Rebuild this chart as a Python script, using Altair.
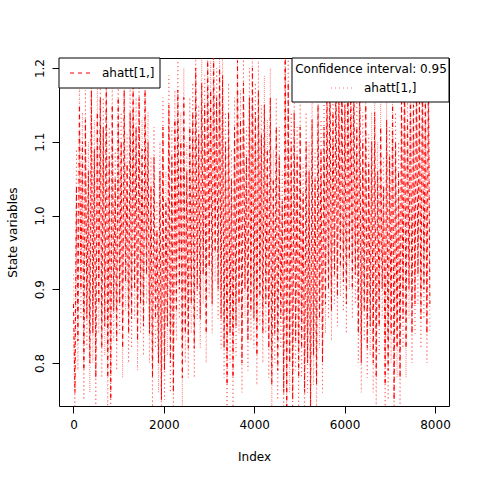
import altair as alt
import pandas as pd

# Index positions (every 33rd observation)
index = list(range(0, 7920, 33))

# Filtered state estimate ahatt[1,]
estimate = [
    0.88, 0.76, 1.04, 0.83, 1.15, 0.90, 1.10, 0.79, 1.13, 0.86,
    1.06, 0.80, 1.17, 0.84, 1.09, 0.78, 1.14, 0.88, 1.16, 0.82,
    1.12, 0.85, 1.18, 0.78, 1.08, 0.75, 1.15, 0.87, 1.05, 0.83,
    1.16, 0.88, 1.10, 0.82, 1.17, 0.91, 1.07, 0.84, 1.14, 0.86,
    1.18, 0.90, 1.12, 0.83, 1.16, 0.88, 1.09, 0.85, 1.17, 0.92,
    1.10, 0.84, 1.04, 0.78, 1.08, 0.86, 0.98, 0.80, 1.06, 0.75,
    1.12, 0.79, 1.02, 0.85, 1.15, 0.80, 1.08, 0.76, 1.13, 0.87,
    1.17, 0.90, 1.10, 0.78, 1.16, 0.84, 1.06, 0.82, 1.12, 0.88,
    1.14, 0.82, 1.20, 0.90, 1.11, 0.86, 1.18, 0.92, 1.15, 0.84,
    1.21, 0.93, 1.17, 0.88, 1.22, 0.95, 1.16, 0.90, 1.20, 0.86,
    1.19, 0.82, 1.10, 0.77, 1.14, 0.84, 1.05, 0.78, 1.12, 0.85,
    1.21, 0.88, 1.13, 0.80, 1.18, 0.90, 1.08, 0.83, 1.16, 0.87,
    1.20, 0.86, 1.14, 0.81, 1.17, 0.89, 1.11, 0.84, 1.15, 0.88,
    1.09, 0.82, 1.16, 0.77, 1.05, 0.84, 1.12, 0.79, 1.08, 0.86,
    1.02, 0.76, 1.24, 0.72, 1.18, 0.80, 1.10, 0.75, 1.14, 0.83,
    1.08, 0.78, 1.12, 0.82, 1.03, 0.76, 1.10, 0.80, 1.06, 0.74,
    1.13, 0.81, 1.05, 0.77, 1.15, 0.86, 1.09, 0.80, 1.12, 0.88,
    1.17, 0.90, 1.20, 0.87, 1.14, 0.92, 1.19, 0.89, 1.16, 0.93,
    1.20, 0.91, 1.15, 0.88, 1.21, 0.94, 1.17, 0.90, 1.19, 0.92,
    1.12, 0.84, 1.18, 0.80, 1.10, 0.87, 1.15, 0.82, 1.07, 0.85,
    1.10, 0.80, 1.14, 0.78, 1.06, 0.85, 1.12, 0.90, 1.04, 0.77,
    1.13, 0.79, 1.08, 0.84, 1.15, 0.75, 1.10, 0.82, 1.06, 0.78,
    1.16, 0.86, 1.20, 0.82, 1.13, 0.90, 1.18, 0.84, 1.15, 0.88,
    1.19, 0.92, 1.16, 0.86, 1.20, 0.90, 1.17, 0.84, 1.19, 0.88,
]

# Upper 95% confidence bound
upper = [
    0.92, 0.80, 1.09, 0.87, 1.18, 0.94, 1.14, 0.83, 1.17, 0.90,
    1.10, 0.84, 1.20, 0.88, 1.13, 0.82, 1.18, 0.92, 1.19, 0.86,
    1.16, 0.89, 1.21, 0.82, 1.12, 0.79, 1.19, 0.91, 1.09, 0.87,
    1.20, 0.92, 1.14, 0.86, 1.21, 0.95, 1.11, 0.88, 1.18, 0.90,
    1.22, 0.94, 1.16, 0.87, 1.20, 0.92, 1.13, 0.89, 1.21, 0.96,
    1.14, 0.88, 1.08, 0.82, 1.12, 0.90, 1.02, 0.84, 1.10, 0.79,
    1.16, 0.83, 1.06, 0.89, 1.19, 0.84, 1.12, 0.80, 1.17, 0.91,
    1.21, 0.94, 1.14, 0.82, 1.20, 0.88, 1.10, 0.86, 1.16, 0.92,
    1.18, 0.86, 1.24, 0.94, 1.15, 0.90, 1.22, 0.96, 1.19, 0.88,
    1.25, 0.97, 1.21, 0.92, 1.26, 0.99, 1.20, 0.94, 1.24, 0.90,
    1.23, 0.86, 1.14, 0.81, 1.18, 0.88, 1.09, 0.82, 1.16, 0.89,
    1.25, 0.92, 1.17, 0.84, 1.22, 0.94, 1.12, 0.87, 1.20, 0.91,
    1.24, 0.90, 1.18, 0.85, 1.21, 0.93, 1.15, 0.88, 1.19, 0.92,
    1.13, 0.86, 1.20, 0.81, 1.09, 0.88, 1.16, 0.83, 1.12, 0.90,
    1.06, 0.80, 1.28, 0.76, 1.22, 0.84, 1.14, 0.79, 1.18, 0.87,
    1.12, 0.82, 1.16, 0.86, 1.07, 0.80, 1.14, 0.84, 1.10, 0.78,
    1.17, 0.85, 1.09, 0.81, 1.19, 0.90, 1.13, 0.84, 1.16, 0.92,
    1.21, 0.94, 1.24, 0.91, 1.18, 0.96, 1.23, 0.93, 1.20, 0.97,
    1.24, 0.95, 1.19, 0.92, 1.25, 0.98, 1.21, 0.94, 1.23, 0.96,
    1.16, 0.88, 1.22, 0.84, 1.14, 0.91, 1.19, 0.86, 1.11, 0.89,
    1.14, 0.84, 1.18, 0.82, 1.10, 0.89, 1.16, 0.94, 1.08, 0.81,
    1.17, 0.83, 1.12, 0.88, 1.19, 0.79, 1.14, 0.86, 1.10, 0.82,
    1.20, 0.90, 1.24, 0.86, 1.17, 0.94, 1.22, 0.88, 1.19, 0.92,
    1.23, 0.96, 1.20, 0.90, 1.24, 0.94, 1.21, 0.88, 1.23, 0.92,
]

# Lower 95% confidence bound
lower = [
    0.84, 0.72, 1.00, 0.79, 1.11, 0.86, 1.06, 0.75, 1.09, 0.82,
    1.02, 0.76, 1.13, 0.80, 1.05, 0.74, 1.10, 0.84, 1.12, 0.78,
    1.08, 0.81, 1.14, 0.74, 1.04, 0.71, 1.11, 0.83, 1.01, 0.79,
    1.12, 0.84, 1.06, 0.78, 1.13, 0.87, 1.03, 0.80, 1.10, 0.82,
    1.14, 0.86, 1.08, 0.79, 1.12, 0.84, 1.05, 0.81, 1.13, 0.88,
    1.06, 0.80, 1.00, 0.74, 1.04, 0.82, 0.94, 0.76, 1.02, 0.71,
    1.08, 0.75, 0.98, 0.81, 1.11, 0.76, 1.04, 0.72, 1.09, 0.83,
    1.13, 0.86, 1.06, 0.74, 1.12, 0.80, 1.02, 0.78, 1.08, 0.84,
    1.10, 0.78, 1.16, 0.86, 1.07, 0.82, 1.14, 0.88, 1.11, 0.80,
    1.17, 0.89, 1.13, 0.84, 1.18, 0.91, 1.12, 0.86, 1.16, 0.82,
    1.15, 0.78, 1.06, 0.73, 1.10, 0.80, 1.01, 0.74, 1.08, 0.81,
    1.17, 0.84, 1.09, 0.76, 1.14, 0.86, 1.04, 0.79, 1.12, 0.83,
    1.16, 0.82, 1.10, 0.77, 1.13, 0.85, 1.07, 0.80, 1.11, 0.84,
    1.05, 0.78, 1.12, 0.73, 1.01, 0.80, 1.08, 0.75, 1.04, 0.82,
    0.98, 0.72, 1.20, 0.68, 1.14, 0.76, 1.06, 0.71, 1.10, 0.79,
    1.04, 0.74, 1.08, 0.78, 0.99, 0.72, 1.06, 0.76, 1.02, 0.70,
    1.09, 0.77, 1.01, 0.73, 1.11, 0.82, 1.05, 0.76, 1.08, 0.84,
    1.13, 0.86, 1.16, 0.83, 1.10, 0.88, 1.15, 0.85, 1.12, 0.89,
    1.16, 0.87, 1.11, 0.84, 1.17, 0.90, 1.13, 0.86, 1.15, 0.88,
    1.08, 0.80, 1.14, 0.76, 1.06, 0.83, 1.11, 0.78, 1.03, 0.81,
    1.06, 0.76, 1.10, 0.74, 1.02, 0.81, 1.08, 0.86, 1.00, 0.73,
    1.09, 0.75, 1.04, 0.80, 1.11, 0.71, 1.06, 0.78, 1.02, 0.74,
    1.12, 0.82, 1.16, 0.78, 1.09, 0.86, 1.14, 0.80, 1.11, 0.84,
    1.15, 0.88, 1.12, 0.82, 1.16, 0.86, 1.13, 0.80, 1.15, 0.84,
]

x_ticks = [0, 2000, 4000, 6000, 8000]
y_ticks = [0.8, 0.9, 1.0, 1.1, 1.2]

FONT = "DejaVu Sans"

df = pd.DataFrame({"Index": index, "est": estimate, "upper": upper, "lower": lower})

xscale = alt.Scale(domain=[-320, 8310], nice=False, zero=False)
yscale = alt.Scale(domain=[0.7417, 1.2136], nice=False, zero=False)

xaxis = alt.Axis(values=x_ticks, title="Index", grid=False, domain=False, format="d",
                 tickSize=7, tickColor="black", labelFont=FONT, labelFontSize=12,
                 labelColor="black", labelPadding=6, titleFont=FONT, titleFontSize=12,
                 titleFontWeight="normal", titleColor="black", titleY=50,
                 titleBaseline="middle", labelFlush=False)
yaxis = alt.Axis(values=y_ticks, title="State variables", grid=False, domain=False,
                 tickSize=7, tickColor="black", labelFont=FONT, labelFontSize=12,
                 labelColor="black", labelAngle=270, labelAlign="center",
                 labelBaseline="alphabetic", labelPadding=9, format=".1f",
                 titleFont=FONT, titleFontSize=12, titleFontWeight="normal",
                 titleColor="black", titleAngle=270, titleX=-47, titleY=174,
                 titleAlign="center", titleBaseline="middle", labelFlush=False)

base = alt.Chart(df)

est_line = base.mark_line(color="#FF0000", strokeWidth=1, strokeDash=[4, 4], clip=True).encode(
    x=alt.X("Index:Q", scale=xscale, axis=xaxis),
    y=alt.Y("est:Q", scale=yscale, axis=yaxis),
)
up_line = base.mark_line(color="#FF0000", strokeWidth=1, strokeDash=[1, 3], opacity=0.55, clip=True).encode(
    x=alt.X("Index:Q", scale=xscale),
    y=alt.Y("upper:Q", scale=yscale),
)
lo_line = base.mark_line(color="#FF0000", strokeWidth=1, strokeDash=[1, 3], opacity=0.55, clip=True).encode(
    x=alt.X("Index:Q", scale=xscale),
    y=alt.Y("lower:Q", scale=yscale),
)

one = pd.DataFrame({"k": [0]})
leg = alt.Chart(one)

# Left legend (topleft)
l_box = leg.mark_rect(fill="white", stroke="black", strokeWidth=1).encode(
    x=alt.value(0), x2=alt.value(101), y=alt.value(0), y2=alt.value(30))
l_line = leg.mark_rule(color="#FF0000", strokeDash=[4, 4], strokeWidth=1).encode(
    x=alt.value(11), x2=alt.value(33), y=alt.value(15))
l_text = leg.mark_text(text="ahatt[1,]", font=FONT, fontSize=12, align="left",
                       baseline="middle", color="black").encode(
    x=alt.value(43), y=alt.value(15))

# Right legend (topright)
r_box = leg.mark_rect(fill="white", stroke="black", strokeWidth=1).encode(
    x=alt.value(233), x2=alt.value(390), y=alt.value(0), y2=alt.value(44))
r_title = leg.mark_text(text="Confidence interval: 0.95", font=FONT, fontSize=12,
                        align="center", baseline="middle", color="black").encode(
    x=alt.value(312), y=alt.value(11))
r_line = leg.mark_rule(color="#FF0000", strokeDash=[1, 3], strokeWidth=1, opacity=0.55).encode(
    x=alt.value(272), x2=alt.value(295), y=alt.value(30))
r_text = leg.mark_text(text="ahatt[1,]", font=FONT, fontSize=12, align="left",
                       baseline="middle", color="black").encode(
    x=alt.value(305), y=alt.value(30))

chart = alt.layer(est_line, up_line, lo_line, l_box, l_line, l_text,
                  r_box, r_title, r_line, r_text).properties(
    width=390, height=348,
    autosize=alt.AutoSizeParams(type="none"),
    padding={"left": 59, "top": 58, "right": 31, "bottom": 74},
    background="white",
).configure_view(stroke="black", strokeWidth=1)

chart.save("out.html", embed_options={"renderer": "svg", "actions": False})
